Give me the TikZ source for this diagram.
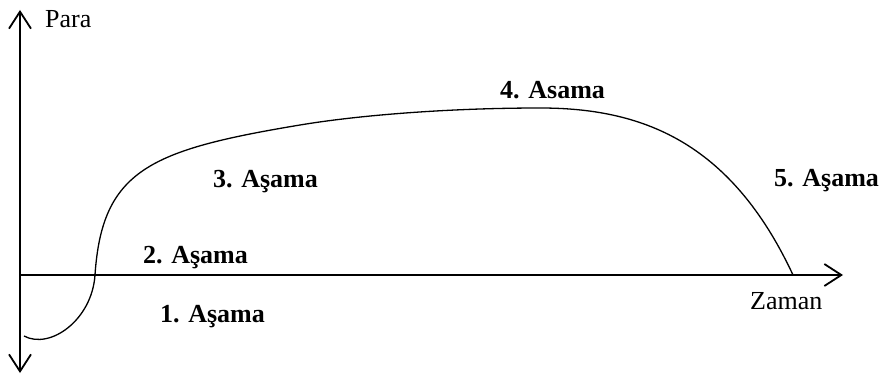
\documentclass[tikz,border=0pt]{standalone}
\usepackage{fontspec}
\setmainfont{Liberation Serif}
\usetikzlibrary{arrows.meta}
\tikzset{
  axis/.style={line width=1.8pt, -{Straight Barb[length=17pt,width=22pt,line width=1.8pt]}},
  curveline/.style={line width=1.3pt},
  stagelabel/.style={anchor=base west, inner sep=0pt, font=\fontsize{26}{30}\selectfont\bfseries},
  axislabel/.style={anchor=base west, inner sep=0pt, font=\fontsize{26}{30}\selectfont}
}
\begin{document}
\begin{tikzpicture}[x=1pt,y=-1pt]
\useasboundingbox (0,0) rectangle (880,374);
\coordinate (O) at (20,275);
\coordinate (ytop) at (20,10);
\coordinate (ybot) at (20,373);
\coordinate (xend) at (843,275);
\draw[axis] (O) -- (ytop);
\draw[axis] (O) -- (ybot);
\draw[axis] (O) -- (xend);
\draw[curveline] (24,336) .. controls (50,350) and (92,320) .. (95,275)
  .. controls (102,170) and (150,150) .. (300,125)
  .. controls (360,115) and (450,108) .. (540,108)
  .. controls (640,108) and (730,140) .. (793,275);
\node[axislabel] (para) at (45,28) {Para};
\node[axislabel] (zaman) at (750,309) {Zaman};
\node[stagelabel] (s1) at (160,322) {1. Aşama};
\node[stagelabel] (s2) at (143,263) {2. Aşama};
\node[stagelabel] (s3) at (213,187) {3. Aşama};
\node[stagelabel] (s4) at (500,99) {4. Asama};
\node[stagelabel] (s5) at (774,186) {5. Aşama};
\end{tikzpicture}
\end{document}
